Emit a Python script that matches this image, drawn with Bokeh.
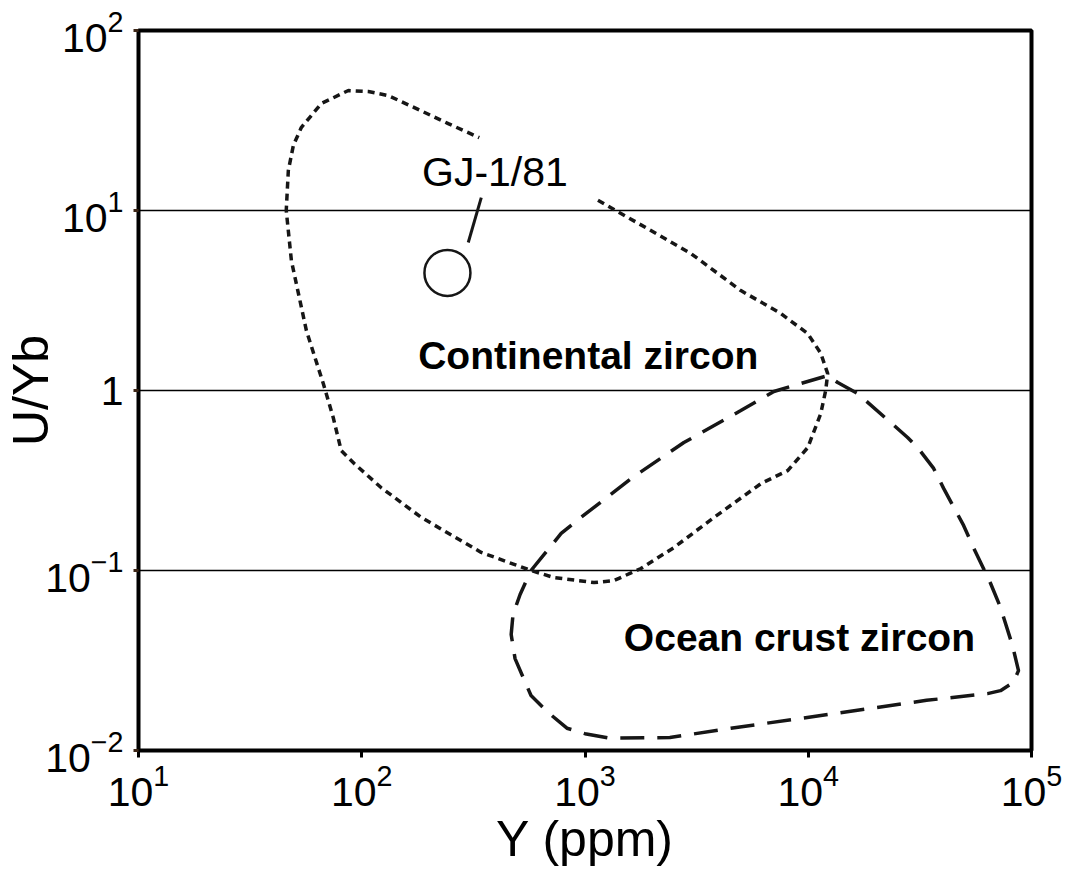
from bokeh.plotting import figure
from bokeh.models import FixedTicker, Label
from bokeh.embed import file_html
from bokeh.resources import INLINE

# ---- data ----
# Continental zircon field (dotted outline, open where the GJ-1/81 label sits)
cont_y = [1143, 2980, 4990, 7530, 9950, 11380, 12220, 11970, 11380, 9950, 8090, 6140,
          3780, 2500, 1780, 1349, 1097, 726, 573, 343, 185, 122, 92.5, 80.9, 74.5, 67.3,
          56.5, 48.4, 45.9, 46.9, 49.4, 53.6, 65.9, 87.1, 107, 131.5, 172, 244, 336]
cont_uyb = [11.4, 5.77, 3.59, 2.68, 2.07, 1.61, 1.24, 1.0, 0.745, 0.482, 0.359, 0.304,
            0.197, 0.134, 0.1026, 0.088, 0.0857, 0.0914, 0.1, 0.126, 0.197, 0.289, 0.393,
            0.464, 0.708, 1.09, 2.15, 5.27, 10, 16.7, 23.0, 28.9, 39.3, 46.4, 45.8, 43.5,
            37.3, 30.4, 25.4]

# Ocean crust zircon field (dashed, closed outline)
ocean_y = [573, 782, 959, 1607, 2773, 4990, 7015, 9250, 12220, 13550, 16640, 23390,
           27860, 30900, 36450, 40400, 49640, 54980, 65600, 72640, 82180, 87450, 83000,
           72640, 63530, 33880, 9350, 4500, 2400, 1294, 1000, 830, 690, 573, 486, 467,
           476, 512, 573]
ocean_uyb = [0.1, 0.1606, 0.197, 0.324, 0.514, 0.774, 0.987, 1.094, 1.21, 1.107, 0.962,
             0.664, 0.548, 0.482, 0.369, 0.286, 0.178, 0.134, 0.0847, 0.0623, 0.0383,
             0.0278, 0.0239, 0.0215, 0.0207, 0.019, 0.0151, 0.0133, 0.0118, 0.0117,
             0.0124, 0.0133, 0.0161, 0.0202, 0.0324, 0.0441, 0.057, 0.0736, 0.1]

# GJ-1/81 sample and its leader line
gj_y = [242]
gj_uyb = [4.5]
leader_y = [343, 300]
leader_uyb = [11.8, 6.64]

# ticks
xtick_vals = [10, 100, 1000, 10000, 100000]
ytick_vals = [0.01, 0.1, 1, 10, 100]
grid_vals = [0.1, 1, 10]

FONT = "Liberation Sans"
INK = "#161616"

p = figure(width=1085, height=875, x_axis_type="log", y_axis_type="log",
           x_range=(10, 100000), y_range=(0.01, 100),
           output_backend="svg", toolbar_location=None,
           x_axis_label="Y (ppm)", y_axis_label="U/Yb",
           min_border_left=137, min_border_right=54, min_border_top=30,
           min_border_bottom=125)
p.background_fill_color = "white"
p.border_fill_color = "white"
p.outline_line_color = "black"
p.outline_line_width = 4
p.outline_line_alpha = 1.0

p.xaxis.ticker = FixedTicker(ticks=xtick_vals, minor_ticks=[])
p.yaxis.ticker = FixedTicker(ticks=ytick_vals, minor_ticks=[])
p.yaxis.major_label_overrides = {1: "1"}
p.axis.major_label_text_font = FONT
p.axis.major_label_text_font_size = "41px"
p.axis.major_label_text_color = "black"
p.axis.axis_label_text_font = FONT
p.axis.axis_label_text_font_size = "50px"
p.axis.axis_label_text_font_style = "normal"
p.axis.axis_label_text_color = "black"
p.axis.axis_line_color = None
p.axis.minor_tick_line_color = None
p.xaxis.major_tick_in = 0
p.xaxis.major_tick_out = 7
p.xaxis.major_tick_line_width = 3
p.xaxis.major_tick_line_color = "black"
p.xaxis.major_label_standoff = 6
p.xaxis.axis_label_standoff = 2
p.yaxis.major_tick_in = 0
p.yaxis.major_tick_out = 5
p.yaxis.major_tick_line_width = 3
p.yaxis.major_tick_line_color = "#3d2616"
p.yaxis.major_label_standoff = 10
p.yaxis.axis_label_standoff = -17

p.xgrid.visible = False
p.ygrid.ticker = FixedTicker(ticks=grid_vals, minor_ticks=[])
p.ygrid.grid_line_color = "black"
p.ygrid.grid_line_width = 1.5
p.ygrid.grid_line_alpha = 1.0

# fields
p.line(cont_y, cont_uyb, line_color=INK, line_width=3.5, line_dash="7 5")
p.line(ocean_y, ocean_uyb, line_color=INK, line_width=3.5, line_dash="24 13")

# sample
p.line(leader_y, leader_uyb, line_color=INK, line_width=3)
p.scatter(gj_y, gj_uyb, marker="circle", size=46, fill_color=None,
          line_color=INK, line_width=2.5)

# field and sample labels
p.add_layout(Label(x=179, y=1.564, text="Continental zircon", text_align="left",
                   text_baseline="alphabetic", text_font=FONT, text_font_size="39px",
                   text_font_style="bold", text_color="black"))
p.add_layout(Label(x=1493, y=0.0422, text="Ocean crust zircon", text_align="left",
                   text_baseline="alphabetic", text_font=FONT, text_font_size="39px",
                   text_font_style="bold", text_color="black"))
p.add_layout(Label(x=395, y=16.4, text="GJ-1/81", text_align="center",
                   text_baseline="alphabetic", text_font=FONT, text_font_size="41px",
                   text_color="black"))

open("out.html", "w").write(file_html(p, INLINE))
